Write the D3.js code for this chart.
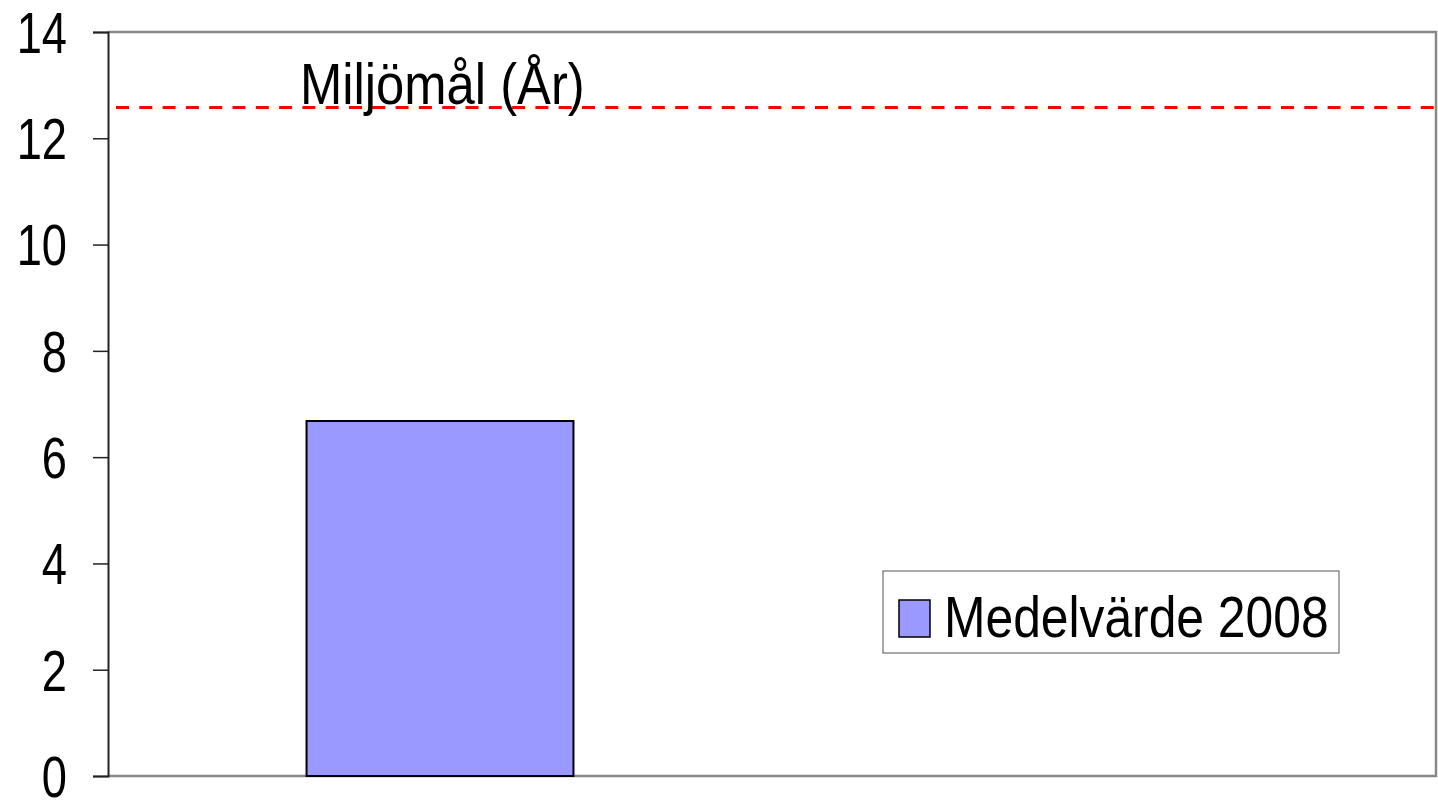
<!DOCTYPE html>
<html>
<head>
<meta charset="utf-8">
<script src="https://cdn.jsdelivr.net/npm/d3@7"></script>
<style>
  body { margin: 0; background: #fff; }
  svg text { font-family: "Liberation Sans Narrow", "Arial Narrow", "Liberation Sans", sans-serif; fill: #000; }
</style>
</head>
<body>
<svg id="chart" width="1438" height="803"></svg>
<script>
// data
const categories = ["a", "b"];
const values = [6.68, null];
const seriesName = "Medelvärde 2008";
const targetValue = 12.58;
const targetLabel = "Miljömål (År)";
const yTicks = [0, 2, 4, 6, 8, 10, 12, 14];

const width = 1438, height = 803;
const margin = { top: 32, right: 2, bottom: 27, left: 108 };

const svg = d3.select("#chart");

// squeeze a text horizontally, the original uses a narrow face
function narrow(sel, factor) {
    sel.each(function() {
        const w = this.getComputedTextLength();
        d3.select(this)
            .attr("textLength", w * factor)
            .attr("lengthAdjust", "spacingAndGlyphs");
    });
}

const x = d3.scaleBand()
    .domain(categories)
    .range([margin.left, width - margin.right])
    .paddingInner(0.598)
    .paddingOuter(0.299);

const y = d3.scaleLinear()
    .domain([0, 14])
    .range([height - margin.bottom, margin.top]);

// plot frame (top, right, bottom in grey)
svg.append("path")
    .attr("d", `M${x.range()[0]},${y(14)} H${x.range()[1]} V${y(0)} H${x.range()[0]}`)
    .attr("fill", "none")
    .attr("stroke", "#888")
    .attr("stroke-width", 2.5);

// bars
svg.append("g")
    .selectAll("rect")
    .data(categories.map((c, i) => ({ c: c, v: values[i] })).filter(d => d.v != null))
    .enter()
    .append("rect")
    .attr("x", d => x(d.c))
    .attr("y", d => y(d.v))
    .attr("width", x.bandwidth())
    .attr("height", d => y(0) - y(d.v))
    .attr("fill", "#9999ff")
    .attr("stroke", "#000")
    .attr("stroke-width", 2);

// y axis
const yAxis = svg.append("g")
    .attr("transform", `translate(${margin.left},0)`)
    .call(d3.axisLeft(y).tickValues(yTicks).tickSize(15).tickPadding(26).tickFormat(d3.format("d")));
yAxis.select(".domain").attr("stroke", "#222").attr("stroke-width", 2);
yAxis.selectAll(".tick line").attr("stroke", "#222").attr("stroke-width", 1.5);
yAxis.selectAll(".tick text")
    .style("font-size", "58px")
    .attr("dy", "0.35em")
    .call(narrow, 0.78);

// target line
svg.append("line")
    .attr("x1", margin.left + 8)
    .attr("x2", width - margin.right)
    .attr("y1", y(targetValue))
    .attr("y2", y(targetValue))
    .attr("stroke", "#ff0000")
    .attr("stroke-width", 3)
    .attr("stroke-dasharray", "13,10.3");

svg.append("text")
    .attr("x", 300)
    .attr("y", 104)
    .style("font-size", "58px")
    .text(targetLabel)
    .call(narrow, 0.875);

// legend
const legend = svg.append("g").attr("transform", "translate(883,571)");
legend.append("rect")
    .attr("width", 456)
    .attr("height", 82)
    .attr("fill", "#fff")
    .attr("stroke", "#555")
    .attr("stroke-width", 1);
legend.append("rect")
    .attr("x", 16)
    .attr("y", 29)
    .attr("width", 31)
    .attr("height", 37)
    .attr("fill", "#9999ff")
    .attr("stroke", "#000")
    .attr("stroke-width", 1.5);
legend.append("text")
    .attr("x", 61)
    .attr("y", 66)
    .style("font-size", "58px")
    .text(seriesName)
    .call(narrow, 0.858);
</script>
</body>
</html>
